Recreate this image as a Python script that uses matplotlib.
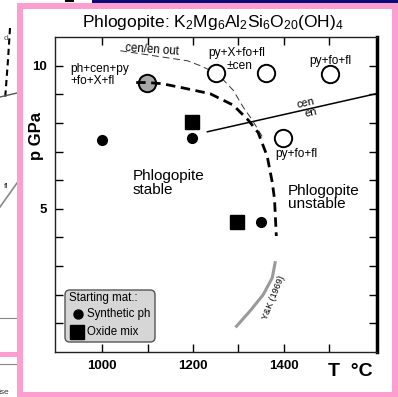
import matplotlib
matplotlib.use("Agg")
import matplotlib.pyplot as plt
from matplotlib.patches import Rectangle, FancyBboxPatch
from matplotlib.lines import Line2D

plt.rcParams['font.family'] = ['Liberation Sans', 'DejaVu Sans']
plt.rcParams['mathtext.fontset'] = 'custom'
plt.rcParams['mathtext.rm'] = 'Liberation Sans'
plt.rcParams['mathtext.it'] = 'Liberation Sans'

# experiment points (T in C, P in GPa)
open_T = [1251, 1361, 1502, 1398]
open_P = [9.76, 9.76, 9.72, 7.48]
gray_T = [1099]
gray_P = [9.41]
dot_T = [1000, 1199, 1351]
dot_P = [7.41, 7.48, 4.55]
sq_T = [1199, 1298]
sq_P = [8.03, 4.55]

# phlogopite breakdown (bold dashed)
brk_T = [1075, 1099, 1132, 1179, 1238, 1289, 1322, 1344, 1364, 1375, 1380, 1384]
brk_P = [9.41, 9.41, 9.37, 9.22, 9.02, 8.62, 8.10, 7.66, 6.83, 5.93, 5.34, 4.05]

# cen/en out (thin dashed)
out_T = [1040, 1188, 1216, 1254, 1289, 1311, 1331, 1353]
out_P = [10.52, 10.17, 10.0, 9.72, 9.14, 8.55, 8.10, 7.52]

# cen/en transition
cen_T = [1232, 1607]
cen_P = [7.69, 9.03]

# Y&K (1969)
yk_T = [1294, 1327, 1355, 1375, 1382]
yk_P = [0.86, 1.45, 2.0, 2.59, 3.17]

fig = plt.figure(figsize=(3.98, 3.97), dpi=100)
W, H = 398, 397


def fx(x):
    return x / W


def fy(y):
    return 1 - y / H


# surrounding slide bits
fig.add_artist(Rectangle((fx(92), fy(3)), fx(306), 3 / H, color='#0b0b7a', lw=0, zorder=-3))
fig.add_artist(Line2D([fx(66), fx(73)], [fy(1), fy(1)], color='black', lw=1.5, zorder=-3))
fig.add_artist(Line2D([fx(10), fx(8), fx(5)], [fy(28), fy(60), fy(100)], color='black', lw=1.5,
                      dashes=(3, 2), zorder=-3))
fig.add_artist(Line2D([fx(0), fx(17)], [fy(97), fy(93)], color='#555555', lw=1, zorder=-3))
fig.add_artist(Line2D([fx(0), fx(17)], [fy(207), fy(183)], color='#888888', lw=1.2, zorder=-3))
fig.add_artist(Line2D([fx(0), fx(17)], [fy(318), fy(318)], color='#888888', lw=0.8, zorder=-3))
fig.add_artist(Line2D([fx(0), fx(17)], [fy(364), fy(364)], color='#888888', lw=0.8, zorder=-3))
fig.add_artist(Rectangle((fx(0), fy(357)), fx(17), 5 / H, color='#fc9fd0', lw=0, zorder=-3))
fig.text(fx(6), fy(38), 'd', fontsize=6, color='#555555', ha='center', va='center')
fig.text(fx(6), fy(186), 'fl', fontsize=6, color='#333333', ha='center', va='center')
fig.text(fx(4), fy(393), 'ise', fontsize=6, color='#333333', ha='center', va='center')

# pink frame
fig.add_artist(Rectangle((fx(17), 0), 1 - fx(17), fy(3), color='#fc9fd0', lw=0, zorder=-2))
fig.add_artist(Rectangle((fx(23), fy(392)), fx(369), 383 / H, color='white', lw=0, zorder=-1))

ax = fig.add_axes([fx(55), fy(352), fx(322), 315 / H])
ax.patch.set_alpha(0)
ax.set_xlim(896, 1606)
ax.set_ylim(0, 11)

ax.plot(yk_T, yk_P, color='#9a9a9a', lw=2.2, solid_capstyle='butt')
ax.plot(cen_T, cen_P, color='black', lw=1.1)
ax.plot(out_T, out_P, color='#333333', lw=0.7, dashes=(7, 4))
ax.plot(gray_T, gray_P, 'o', ms=12.5, mfc='#a8a8a8', mec='black', mew=1.4)
ax.plot(brk_T, brk_P, color='black', lw=2.0, dashes=(3.4, 2.0))
ax.plot(open_T, open_P, 'o', ms=12.5, mfc='white', mec='black', mew=1.4)
ax.plot(dot_T, dot_P, 'o', ms=7, color='black')
ax.plot(sq_T, sq_P, 's', ms=10.5, color='black')

small = 8.6
ax.text(929, 9.67, 'ph+cen+py\n+fo+X+fl', fontsize=small, ha='left', va='center', linespacing=1.05)
ax.text(1296, 10.44, 'py+X+fo+fl', fontsize=small, ha='center', va='center')
ax.text(1303, 9.98, '±cen', fontsize=small, ha='center', va='center')
ax.text(1504, 10.17, 'py+fo+fl', fontsize=small, ha='center', va='center')
ax.text(1428, 6.93, 'py+fo+fl', fontsize=small, ha='center', va='center')
ax.text(1110, 10.56, 'cen/en out', fontsize=8.3, ha='center', va='center', rotation=-4)
ax.text(1449, 8.71, 'cen', fontsize=8, ha='center', va='center', rotation=13)
ax.text(1461, 8.36, 'en', fontsize=8, ha='center', va='center', rotation=13)
ax.text(1068, 5.9, 'Phlogopite\nstable', fontsize=11, ha='left', va='center', linespacing=0.95)
ax.text(1410, 5.4, 'Phlogopite\nunstable', fontsize=11, ha='left', va='center', linespacing=0.95)
ax.text(1377, 1.9, 'Y&K (1969)', fontsize=6.5, ha='center', va='center', rotation=68)

# legend box
leg = FancyBboxPatch((fx(65), fy(342)), fx(90), 52 / H, boxstyle='round,pad=0,rounding_size=0.012',
                     transform=fig.transFigure, fc='#d6d6d6', ec='#555555', lw=1, zorder=5)
fig.add_artist(leg)
fig.text(fx(69), fy(298), 'Starting mat.:', fontsize=8.3, va='center', ha='left', zorder=6)
fig.text(fx(87), fy(314), 'Synthetic ph', fontsize=8.3, va='center', ha='left', zorder=6)
fig.text(fx(87), fy(332), 'Oxide mix', fontsize=8.3, va='center', ha='left', zorder=6)
fig.add_artist(Line2D([fx(78)], [fy(314)], marker='o', ms=6.5, color='black', zorder=6))
fig.add_artist(Line2D([fx(77)], [fy(332)], marker='s', ms=10, color='black', zorder=6))

ax.set_xticks([1000, 1100, 1200, 1300, 1400, 1500])
ax.set_xticklabels(['1000', '', '1200', '', '1400', ''])
ax.set_yticks(range(1, 11))
ax.set_yticklabels(['', '', '', '', '5', '', '', '', '', '10'])
ax.tick_params(direction='in', length=6, width=1, top=True, right=True, labelsize=9.5, pad=6)
for lab in ax.get_xticklabels() + ax.get_yticklabels():
    lab.set_fontweight('bold')
for s in ['left', 'bottom', 'top']:
    ax.spines[s].set_linewidth(1.0)
    ax.spines[s].set_color('#222222')
ax.spines['right'].set_linewidth(2.5)

fig.text(fx(213), fy(22), 'Phlogopite: K$_2$Mg$_6$Al$_2$Si$_6$O$_{20}$(OH)$_4$', fontsize=12.5,
         ha='center', va='center')
fig.text(fx(37), fy(136), 'p GPa', fontsize=12, fontweight='bold', rotation=90, ha='center', va='center')
fig.text(fx(350), fy(372), 'T  °C', fontsize=14, fontweight='bold', ha='center', va='center')

fig.savefig('out.png', dpi=100)
